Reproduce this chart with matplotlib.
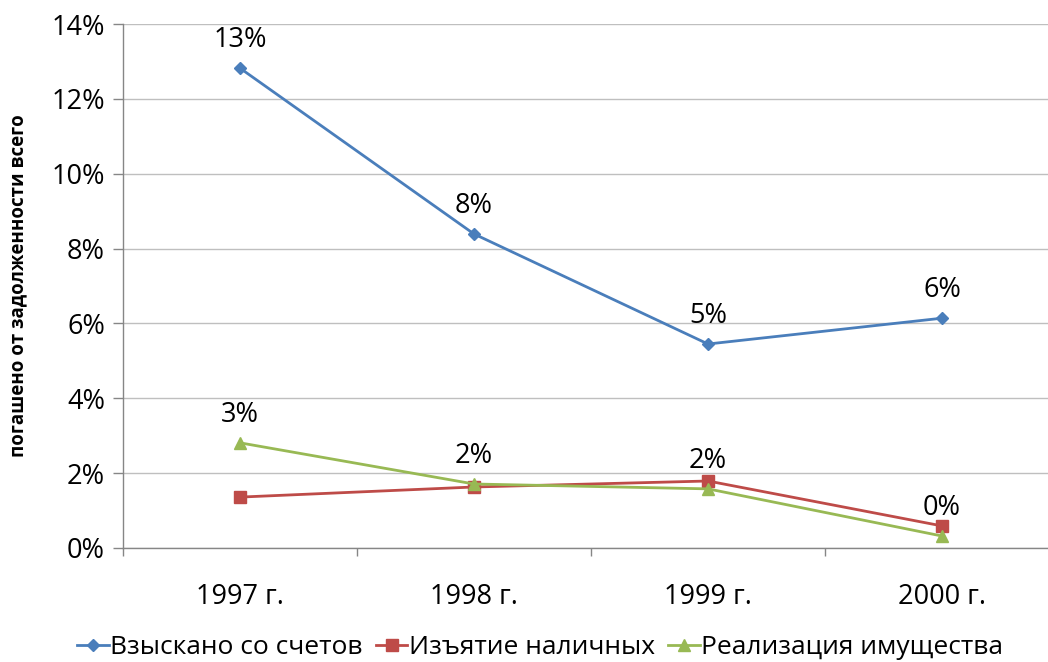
import matplotlib
matplotlib.use("Agg")
import matplotlib.pyplot as plt
from matplotlib.ticker import FuncFormatter, FixedLocator

plt.rcParams['font.family'] = ['Open Sans', 'DejaVu Sans']

categories = ["1997 г.", "1998 г.", "1999 г.", "2000 г."]
vzyskano = [12.82, 8.39, 5.45, 6.14]
izyatie = [1.36, 1.63, 1.79, 0.59]
realizaciya = [2.81, 1.71, 1.58, 0.32]
series_names = ["Взыскано со счетов", "Изъятие наличных", "Реализация имущества"]
y_label = "погашено от задолженности всего"

fig = plt.figure(figsize=(10.48, 6.62), dpi=100)
ax = fig.add_axes([123/1048, 1-548/662, 936/1048, 524/662])

x = list(range(len(categories)))
blue, red, green = "#4A7EBB", "#BE4B48", "#98B954"
ax.plot(x, vzyskano, color=blue, lw=2.0, marker="D", ms=6, label=series_names[0], zorder=3)
ax.plot(x, izyatie, color=red, lw=2.0, marker="s", ms=8, label=series_names[1], zorder=3)
ax.plot(x, realizaciya, color=green, lw=2.0, marker="^", ms=8.5, label=series_names[2], zorder=3)

for xi, v in zip(x, vzyskano):
    ax.annotate(f"{v:.0f}%", (xi, v), xytext=(0, 20), textcoords="offset points",
                ha="center", va="center", fontsize=19.5)
for xi, v in zip(x, realizaciya):
    ax.annotate(f"{v:.0f}%", (xi, v), xytext=(0, 20), textcoords="offset points",
                ha="center", va="center", fontsize=19.5)

ax.set_xlim(-0.5, 3.5)
ax.set_ylim(0, 14)
ax.set_yticks(range(0, 15, 2))
ax.yaxis.set_major_formatter(FuncFormatter(lambda v, p: f"{v:.0f}%"))
ax.set_xticks(x)
ax.set_xticklabels(categories)
ax.xaxis.set_minor_locator(FixedLocator([-0.5, 0.5, 1.5, 2.5, 3.5]))
ax.tick_params(axis="x", which="major", length=0, pad=25, labelsize=19.5)
ax.tick_params(axis="x", which="minor", length=6, color="#868686", width=1)
ax.tick_params(axis="y", length=7, color="#868686", width=1, labelsize=19.5, pad=6)

ax.grid(axis="y", color="#BFBFBF", lw=1.0)
ax.set_axisbelow(True)
for s in ["top", "right"]:
    ax.spines[s].set_visible(False)
for s in ["left", "bottom"]:
    ax.spines[s].set_color("#868686")
    ax.spines[s].set_linewidth(1.0)

fig.text(18/1048, 1-286/662, y_label, rotation=90, ha="center", va="center",
         fontsize=13.5, fontweight="bold")

leg = fig.legend(loc="center", bbox_to_anchor=(540/1048, 1-648/662), ncol=3, frameon=False,
                 fontsize=19, handlelength=1.2, handletextpad=0.05, columnspacing=0.5,
                 borderaxespad=0)

fig.savefig("out.png", dpi=100)
